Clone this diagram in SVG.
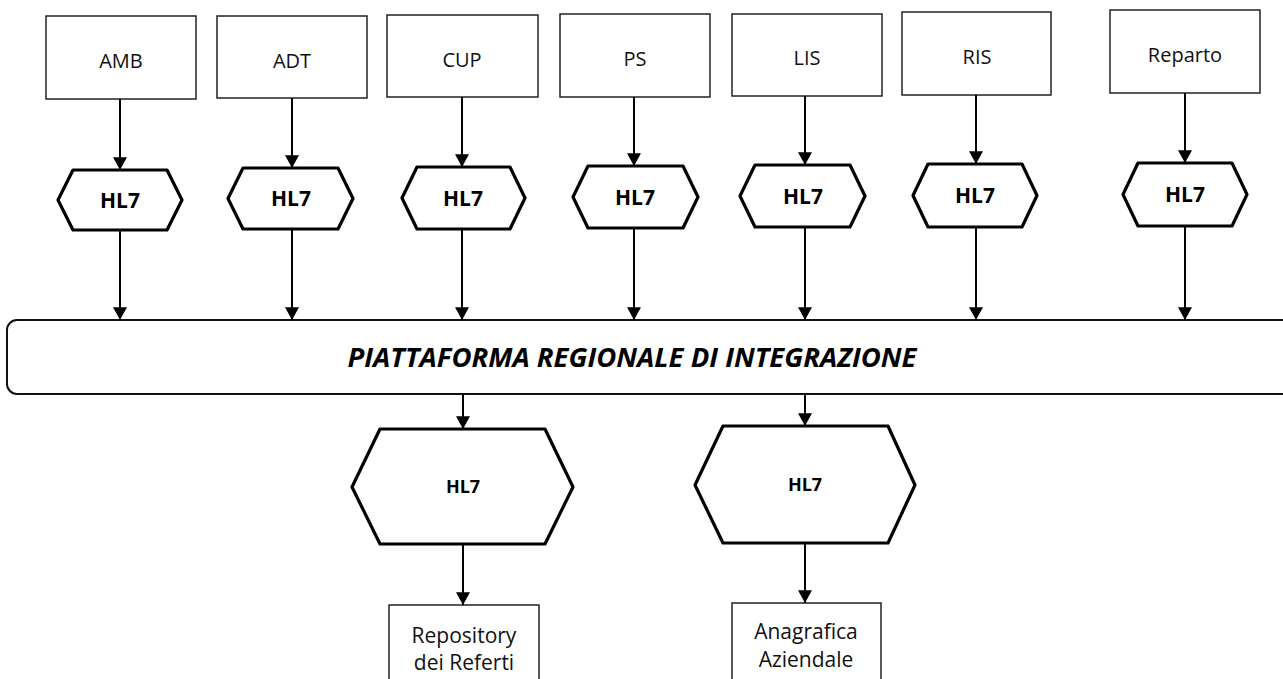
<svg xmlns="http://www.w3.org/2000/svg" width="1283" height="679" viewBox="0 0 1283 679">
<defs>
<marker id="ah" markerUnits="userSpaceOnUse" markerWidth="14" markerHeight="14" refX="11" refY="6" orient="auto" viewBox="0 0 12 12">
<path d="M0,0 L11,6 L0,12 Z" fill="#000"/>
</marker>
<style>
.box{fill:#fff;stroke:#222;stroke-width:1.5}
.hex{fill:#fff;stroke:#000;stroke-width:3.2;stroke-linejoin:round}
.plat{fill:#fff;stroke:#111;stroke-width:2}
.t{font-family:"Open Sans","Liberation Sans",sans-serif;font-size:20px;fill:#111;text-anchor:middle}
.tb{font-family:"Open Sans","Liberation Sans",sans-serif;font-size:21px;fill:#111;text-anchor:middle}
.h{font-family:"Open Sans","Liberation Sans",sans-serif;font-size:21px;font-weight:bold;fill:#000;text-anchor:middle}
.hb{font-family:"Open Sans","Liberation Sans",sans-serif;font-size:18px;font-weight:bold;fill:#000;text-anchor:middle}
.p{font-family:"Open Sans","Liberation Sans",sans-serif;font-size:26px;font-weight:bold;font-style:italic;fill:#000;text-anchor:middle}
.c{stroke:#000;stroke-width:2;fill:none;marker-end:url(#ah)}
</style>
</defs>
<rect width="1283" height="679" fill="#fff"/>

<g id="amb"><rect class="box" x="46" y="16" width="150" height="83"/><text class="t" x="121" y="68">AMB</text></g>
<g id="adt"><rect class="box" x="217" y="16" width="150" height="82"/><text class="t" x="292" y="68">ADT</text></g>
<g id="cup"><rect class="box" x="387" y="15" width="151" height="82"/><text class="t" x="462" y="67">CUP</text></g>
<g id="ps"><rect class="box" x="560" y="14" width="150" height="83"/><text class="t" x="635" y="66">PS</text></g>
<g id="lis"><rect class="box" x="732" y="14" width="150" height="82"/><text class="t" x="807" y="65">LIS</text></g>
<g id="ris"><rect class="box" x="902" y="12" width="149" height="83"/><text class="t" x="977" y="64">RIS</text></g>
<g id="reparto"><rect class="box" x="1110" y="10" width="150" height="83"/><text class="t" x="1185" y="62">Reparto</text></g>

<g id="hl7-amb"><polygon class="hex" points="58,200 73,170 167,170 182,200 167,230 73,230"/><text class="h" x="120" y="208">HL7</text></g>
<g id="hl7-adt"><polygon class="hex" points="228,198.5 243,168 338,168 353,198.5 338,229 243,229"/><text class="h" x="291" y="206">HL7</text></g>
<g id="hl7-cup"><polygon class="hex" points="402,198 417,167 510,167 525,198 510,229 417,229"/><text class="h" x="463" y="206">HL7</text></g>
<g id="hl7-ps"><polygon class="hex" points="573,197 588,166 683,166 698,197 683,228 588,228"/><text class="h" x="635" y="205">HL7</text></g>
<g id="hl7-lis"><polygon class="hex" points="740,196 755,165 850,165 865,196 850,227 755,227"/><text class="h" x="803" y="204">HL7</text></g>
<g id="hl7-ris"><polygon class="hex" points="913,195.5 928,164 1022,164 1037,195.5 1022,227 928,227"/><text class="h" x="975" y="203">HL7</text></g>
<g id="hl7-reparto"><polygon class="hex" points="1123,194.5 1138,163 1232,163 1247,194.5 1232,226 1138,226"/><text class="h" x="1185" y="202">HL7</text></g>

<g id="piattaforma"><rect class="plat" x="7" y="320" width="1300" height="74" rx="10" ry="10"/><text class="p" x="632" y="367" textLength="569" lengthAdjust="spacingAndGlyphs">PIATTAFORMA REGIONALE DI INTEGRAZIONE</text></g>

<g id="hl7-repo"><polygon class="hex" points="352,487 380,429 545,429 573,487 545,544 380,544"/><text class="hb" x="463" y="493">HL7</text></g>
<g id="hl7-anag"><polygon class="hex" points="695,485 723,426 888,426 915,485 888,543 723,543"/><text class="hb" x="805" y="491">HL7</text></g>

<g id="repository"><rect class="box" x="389" y="605" width="150" height="100"/><text class="tb" x="464" y="643">Repository</text><text class="tb" x="464" y="670">dei Referti</text></g>
<g id="anagrafica"><rect class="box" x="732" y="603" width="149" height="100"/><text class="tb" x="806" y="639">Anagrafica</text><text class="tb" x="806" y="667">Aziendale</text></g>

<g id="connectors">
<line class="c" x1="120" y1="99" x2="120" y2="170"/>
<line class="c" x1="292" y1="98" x2="292" y2="168"/>
<line class="c" x1="462" y1="97" x2="462" y2="167"/>
<line class="c" x1="634" y1="97" x2="634" y2="166"/>
<line class="c" x1="805" y1="96" x2="805" y2="165"/>
<line class="c" x1="976" y1="95" x2="976" y2="164"/>
<line class="c" x1="1185" y1="93" x2="1185" y2="163"/>
<line class="c" x1="120" y1="230" x2="120" y2="320"/>
<line class="c" x1="292" y1="229" x2="292" y2="320"/>
<line class="c" x1="462" y1="229" x2="462" y2="320"/>
<line class="c" x1="634" y1="228" x2="634" y2="320"/>
<line class="c" x1="805" y1="227" x2="805" y2="320"/>
<line class="c" x1="976" y1="227" x2="976" y2="320"/>
<line class="c" x1="1185" y1="226" x2="1185" y2="320"/>
<line class="c" x1="463" y1="394" x2="463" y2="429"/>
<line class="c" x1="805" y1="394" x2="805" y2="426"/>
<line class="c" x1="463" y1="544" x2="463" y2="605"/>
<line class="c" x1="805" y1="543" x2="805" y2="603"/>
</g>
</svg>
